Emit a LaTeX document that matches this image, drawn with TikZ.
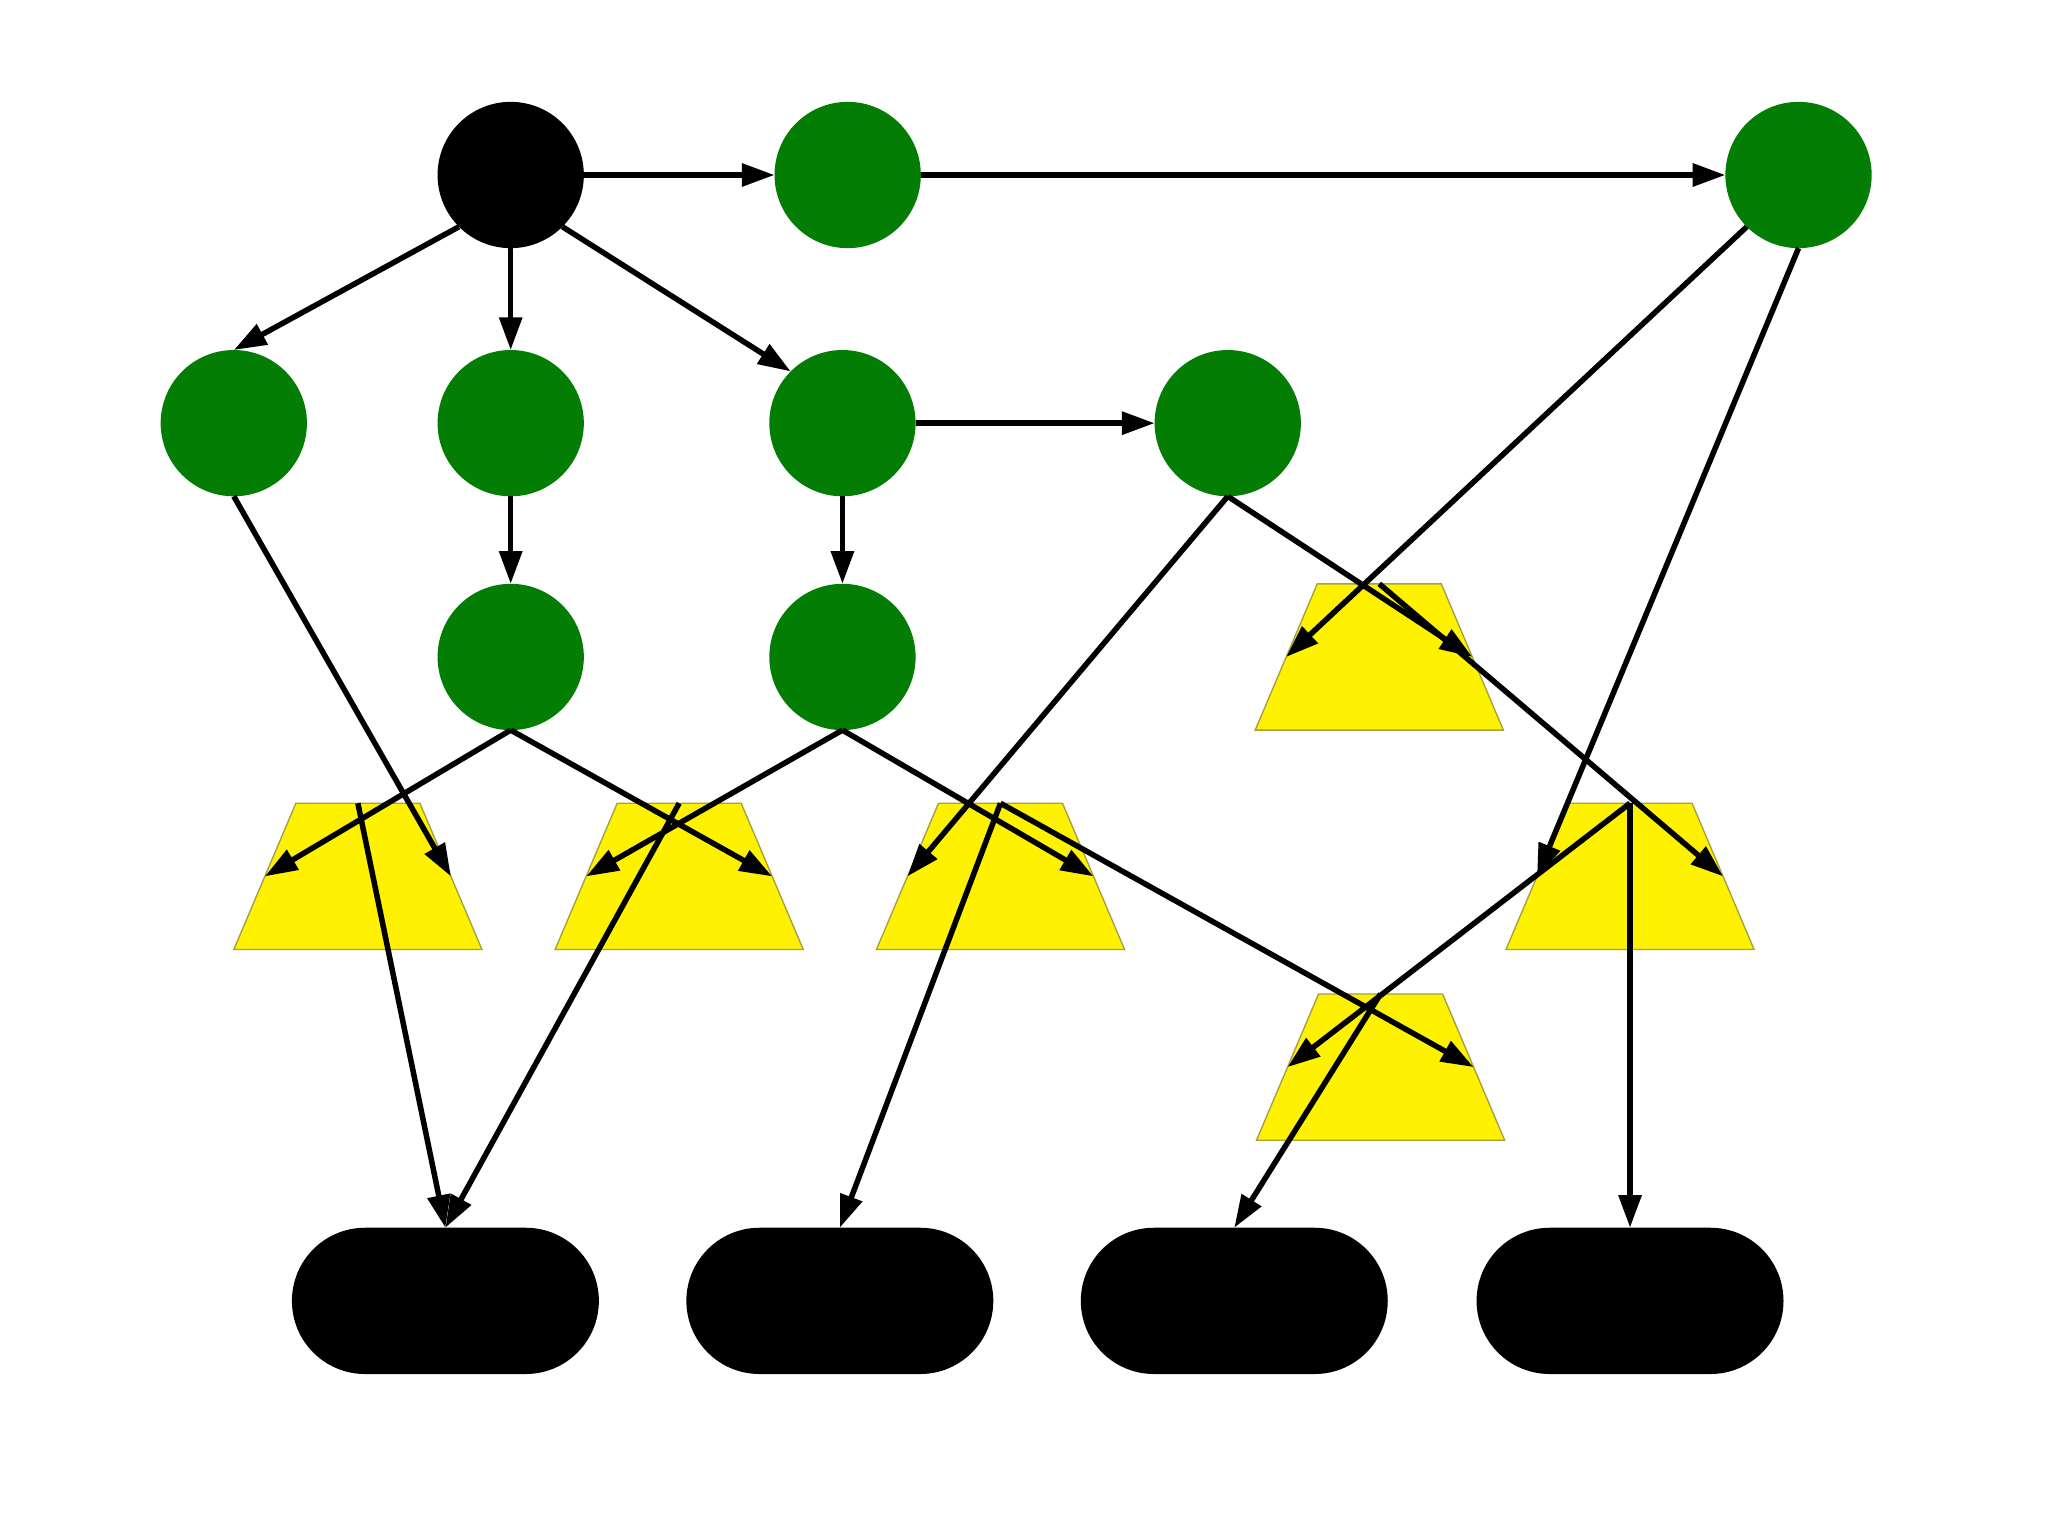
\documentclass[tikz,border=0pt]{standalone}
\usepackage{xcolor}
\usepackage{tikz}
\usetikzlibrary{arrows.meta,shapes.geometric}

\definecolor{dkgreen}{RGB}{3,125,3}

\begin{document}
\begin{tikzpicture}[x=0.1mm, y=-0.1mm,
  dot/.style={circle, fill=dkgreen, minimum size=11.2mm, inner sep=0pt, outer sep=0pt},
  rootdot/.style={dot, fill=black},
  trap/.style={trapezium, trapezium angle=67, trapezium stretches body, fill=yellow, draw=yellow!60!black, line width=0.3pt, minimum width=19mm, inner xsep=0pt, inner ysep=5.6mm, outer sep=0pt},
  term/.style={rectangle, rounded corners=5.6mm, fill=black, minimum width=23.5mm, minimum height=11.2mm, outer sep=0pt},
  arr/.style={-{Triangle[length=2.5mm, width=1.7mm]}, line width=1.2pt}
]
\useasboundingbox (0,0) rectangle (1568,1175);

% circles
\node[rootdot] (A) at (391,134) {};
\foreach \n/\x/\y in {B/649/134, C/1377/134, D/179/324, E/391/324, F/645/324, G/940/324, H/391/503, I/645/503}
  \node[dot] (\n) at (\x,\y) {};

% trapezia
\foreach \n/\x/\y in {T1/274/671, T2/520/671, T3/766/671, T4/1056/503, T5/1248/671, T6/1057/817}
  \node[trap] (\n) at (\x,\y) {};

% terminals
\foreach \n/\x in {R1/341, R2/643, R3/945, R4/1248}
  \node[term] (\n) at (\x,996) {};

% edges
\foreach \a/\b in {A/B, B/C, F/G, E/H}
  \draw[arr] (\a) -- (\b);
\draw[arr] (A.225) -- (D.north);
\draw[arr] (A.south) -- (E.north);
\draw[arr] (A.-45) -- (F.135);
\draw[arr] (F.south) -- (I.north);
\draw[arr] (D.south) -- (T1.right side);
\draw[arr] (H.south) -- (T1.left side);
\draw[arr] (H.south) -- (T2.right side);
\draw[arr] (I.south) -- (T2.left side);
\draw[arr] (I.south) -- (T3.right side);
\draw[arr] (G.south) -- (T3.left side);
\draw[arr] (G.south) -- (T4.right side);
\draw[arr] (C.225) -- (T4.left side);
\draw[arr] (C.south) -- (T5.left side);
\draw[arr] (T4.north) -- (T5.right side);
\draw[arr] (T3.north) -- (T6.right side);
\draw[arr] (T5.north) -- (T6.left side);
\draw[arr] (T1.north) -- (R1.north);
\draw[arr] (T2.north) -- (R1.north);
\draw[arr] (T3.north) -- (R2.north);
\draw[arr] (T6.north) -- (R3.north);
\draw[arr] (T5.north) -- (R4.north);
\end{tikzpicture}
\end{document}
